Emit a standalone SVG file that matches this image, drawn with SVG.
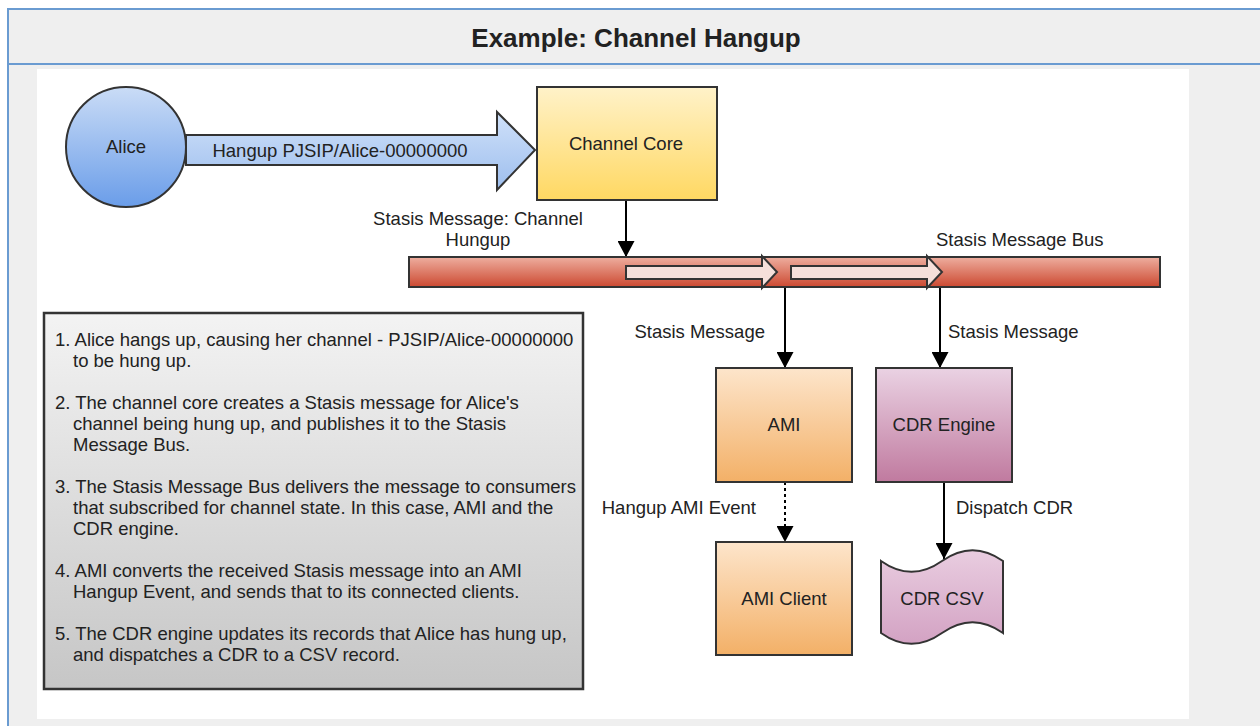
<svg xmlns="http://www.w3.org/2000/svg" width="1260" height="726" viewBox="0 0 1260 726">
<style>
text{font-family:"Liberation Sans",Arial,sans-serif;font-size:18.5px;fill:#222}
.c{text-anchor:middle}
.e{text-anchor:end}
.sh{stroke:#333;stroke-width:2}
.ln{stroke:#000;stroke-width:2;fill:none}
.frame{stroke:#6a9bd1;stroke-width:2;fill:none}
</style>
<defs>
<linearGradient id="gAlice" x1="0" y1="0" x2="0" y2="1"><stop offset="0" stop-color="#cadcf6"/><stop offset="1" stop-color="#6a9de9"/></linearGradient>
<linearGradient id="gBig" x1="0" y1="0" x2="0" y2="1"><stop offset="0" stop-color="#d0e1f9"/><stop offset="1" stop-color="#9dbeee"/></linearGradient>
<linearGradient id="gCore" x1="0" y1="0" x2="0" y2="1"><stop offset="0" stop-color="#fff2c9"/><stop offset="1" stop-color="#ffd862"/></linearGradient>
<linearGradient id="gBus" x1="0" y1="0" x2="0" y2="1"><stop offset="0" stop-color="#eeae9f"/><stop offset="1" stop-color="#cc4931"/></linearGradient>
<linearGradient id="gAmi" x1="0" y1="0" x2="0" y2="1"><stop offset="0" stop-color="#fde5cb"/><stop offset="1" stop-color="#f3b067"/></linearGradient>
<linearGradient id="gCdr" x1="0" y1="0" x2="0" y2="1"><stop offset="0" stop-color="#ead2e3"/><stop offset="1" stop-color="#c07a9f"/></linearGradient>
<linearGradient id="gCsv" x1="0" y1="0" x2="0" y2="1"><stop offset="0" stop-color="#e9cde0"/><stop offset="1" stop-color="#d3a2c3"/></linearGradient>
<linearGradient id="gNote" x1="0" y1="0" x2="0" y2="1"><stop offset="0" stop-color="#f3f3f3"/><stop offset="1" stop-color="#c6c6c6"/></linearGradient>
<marker id="ah" viewBox="0 0 16 17" refX="16" refY="8.5" markerWidth="16" markerHeight="17" markerUnits="userSpaceOnUse" orient="auto"><path d="M0,0 L16,8.5 L0,17 Z" fill="#000"/></marker>
</defs>
<!-- page frame -->
<g id="frame">
<rect x="0" y="0" width="1260" height="726" fill="#ffffff"/>
<rect x="8" y="9" width="1252" height="717" fill="#efefef"/>
<rect x="37" y="69" width="1152" height="650" fill="#ffffff"/>
<line class="frame" x1="7" y1="9" x2="1260" y2="9"/>
<line class="frame" x1="8" y1="9" x2="8" y2="726"/>
<line class="frame" x1="8" y1="64" x2="1260" y2="64"/>
<text x="636" y="47" class="c" style="font-weight:bold;font-size:26px">Example: Channel Hangup</text>
</g>
<g id="connectors">
<line class="ln" x1="626" y1="200" x2="626" y2="257" marker-end="url(#ah)"/>
<line class="ln" x1="785" y1="287" x2="785" y2="368" marker-end="url(#ah)"/>
<line class="ln" x1="940" y1="287" x2="940" y2="368" marker-end="url(#ah)"/>
<line class="ln" x1="785" y1="482" x2="785" y2="542" stroke-dasharray="3 3" marker-end="url(#ah)"/>
<line class="ln" x1="944" y1="482" x2="944" y2="559" marker-end="url(#ah)"/>
<text x="478" y="225" class="c">Stasis Message: Channel</text>
<text x="478" y="246" class="c">Hungup</text>
<text x="765" y="338" class="e">Stasis Message</text>
<text x="948" y="338">Stasis Message</text>
<text x="756" y="514" class="e">Hangup AMI Event</text>
<text x="956" y="514">Dispatch CDR</text>
</g>
<g id="alice">
<circle cx="126" cy="147" r="60" fill="url(#gAlice)" class="sh"/>
<text x="126" y="153" class="c">Alice</text>
</g>
<g id="hangup-arrow">
<path d="M186,135 L497,135 L497,112 L535,150 L497,190 L497,165 L186,165 Z" fill="url(#gBig)" class="sh"/>
<text x="340" y="157" class="c">Hangup PJSIP/Alice-00000000</text>
</g>
<g id="channel-core">
<rect x="537" y="87" width="180" height="113" fill="url(#gCore)" class="sh"/>
<text x="626" y="150" class="c">Channel Core</text>
</g>
<g id="bus">
<rect x="409" y="257" width="751" height="30" fill="url(#gBus)" class="sh"/>
<path d="M626,266 L762,266 L762,256 L777,272 L762,288 L762,279 L626,279 Z" fill="#f5dfda" class="sh"/>
<path d="M791,266 L927,266 L927,256 L942,272 L927,288 L927,279 L791,279 Z" fill="#f5dfda" class="sh"/>
<text x="936" y="246">Stasis Message Bus</text>
</g>
<g id="ami">
<rect x="716" y="368" width="136" height="114" fill="url(#gAmi)" class="sh"/>
<text x="784" y="431" class="c">AMI</text>
</g>
<g id="cdr-engine">
<rect x="876" y="368" width="136" height="114" fill="url(#gCdr)" class="sh"/>
<text x="944" y="431" class="c">CDR Engine</text>
</g>
<g id="ami-client">
<rect x="716" y="542" width="136" height="113" fill="url(#gAmi)" class="sh"/>
<text x="784" y="605" class="c">AMI Client</text>
</g>
<g id="cdr-csv">
<path d="M881,561 Q911.5,582.6 942,561 Q972.5,539.4 1003,561 L1003,633 Q972.5,611.4 942,633 Q911.5,654.6 881,633 Z" fill="url(#gCsv)" class="sh"/>
<text x="942" y="605" class="c">CDR CSV</text>
</g>
<g id="notes">
<rect x="44" y="313" width="539" height="376" fill="url(#gNote)" stroke="#333" stroke-width="2.5"/>
<text x="55" y="346">1. Alice hangs up, causing her channel - PJSIP/Alice-00000000</text>
<text x="73" y="367">to be hung up.</text>
<text x="55" y="409">2. The channel core creates a Stasis message for Alice's</text>
<text x="73" y="430">channel being hung up, and publishes it to the Stasis</text>
<text x="73" y="451">Message Bus.</text>
<text x="55" y="493">3. The Stasis Message Bus delivers the message to consumers</text>
<text x="73" y="514">that subscribed for channel state. In this case, AMI and the</text>
<text x="73" y="535">CDR engine.</text>
<text x="55" y="577">4. AMI converts the received Stasis message into an AMI</text>
<text x="73" y="598">Hangup Event, and sends that to its connected clients.</text>
<text x="55" y="640">5. The CDR engine updates its records that Alice has hung up,</text>
<text x="73" y="661">and dispatches a CDR to a CSV record.</text>
</g>
</svg>
